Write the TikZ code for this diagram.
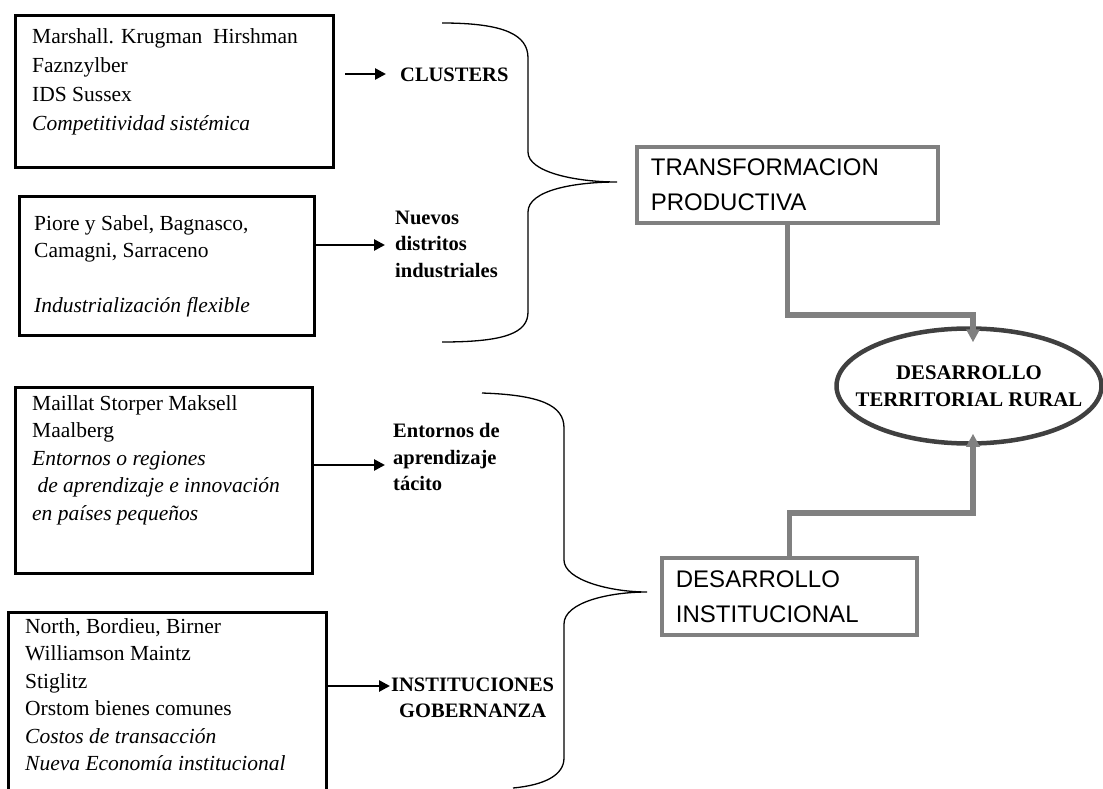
\documentclass[tikz,border=0pt]{standalone}
\usepackage{fontspec}
\setmainfont{Liberation Serif}
\setsansfont{Liberation Sans}
\usepackage{xcolor}
\usetikzlibrary{arrows.meta,calc,positioning,shapes.geometric}
\definecolor{drInk}{HTML}{000000}
\definecolor{drGrey}{HTML}{808080}
\definecolor{drDark}{HTML}{404040}
\tikzset{
  dr diagram/.style={x=1pt, y=-1pt, text=drInk,
    font=\fontsize{21.5}{27.5}\selectfont},
  dr source/.style={draw=drInk, line width=3.4pt, inner sep=0pt,
    anchor=north west},
  dr list/.style={align=left, inner sep=0pt, anchor=north west},
  dr theme/.style={font=\fontsize{20.5}{26.5}\selectfont\bfseries,
    inner sep=0pt, anchor=west},
  dr arrow/.style={-{Triangle[length=11pt,width=11pt]}, draw=drInk,
    line width=2.6pt},
  dr brace/.style={draw=drInk, line width=1.3pt},
  dr axis/.style={draw=drGrey, line width=3.8pt, anchor=north west,
    align=left, inner xsep=14pt, inner ysep=0pt,
    font=\sffamily\fontsize{24}{35}\selectfont},
  dr goal/.style={ellipse, draw=drDark, line width=4.5pt, align=center,
    inner xsep=-30pt, inner ysep=0pt,
    font=\fontsize{20.8}{27}\selectfont\bfseries},
  dr link/.style={-{Triangle[length=13pt,width=13pt]}, draw=drGrey,
    line width=5.5pt}
}

\begin{document}
\begin{tikzpicture}[dr diagram]
\useasboundingbox (0,0) rectangle (1103,789);
\clip (0,0) rectangle (1103,789);

% literature boxes
\node[dr source, minimum width=318pt, minimum height=152pt] (lit1) at (14,14) {};
\node[dr list, font=\fontsize{21.5}{29}\selectfont] (txt1) at ($(lit1.north west)+(18,9)$)
  {\strut Marshall. Krugman\ \ Hirshman\\
  Faznzylber\\ IDS Sussex\\ \textit{Competitividad sistémica}};
\node[dr source, minimum width=295pt, minimum height=139pt] (lit2) at (18,195) {};
\node[dr list] (txt2) at ($(lit2.north west)+(16,16)$) {\strut Piore y Sabel, Bagnasco,\\
  Camagni, Sarraceno\\[27.5pt] \textit{Industrialización flexible}};
\node[dr source, minimum width=297pt, minimum height=186pt] (lit3) at (14,386) {};
\node[dr list] (txt3) at ($(lit3.north west)+(18,5)$) {\strut Maillat Storper Maksell\\
  Maalberg\\ \textit{Entornos o regiones}\\ \textit{\ de aprendizaje e innovación}\\
  \textit{en países pequeños}};
\node[dr source, minimum width=318pt, minimum height=200pt] (lit4) at (7,611) {};
\node[dr list] (txt4) at ($(lit4.north west)+(18,3)$) {\strut North, Bordieu, Birner\\
  Williamson Maintz\\ Stiglitz\\ Orstom bienes comunes\\
  \textit{Costos de transacción}\\ \textit{Nueva Economía institucional}};

% themes
\node[dr theme] (lab1) at (400,75) {CLUSTERS};
\node[dr theme, align=left] (lab2) at (395,244) {Nuevos\\ distritos\\ industriales};
\node[dr theme, align=left] (lab3) at (393,457) {Entornos de\\ aprendizaje\\ tácito};
\node[dr theme, align=center] (lab4) at (391,698) {INSTITUCIONES\\ GOBERNANZA};
\coordinate (end1) at ($(lab1.west)+(-14,-1)$);
\coordinate (end2) at ($(lab2.west)+(-10,1)$);
\coordinate (end3) at ($(lab3.west)+(-8,8)$);
\coordinate (end4) at ($(lab4.west)+(-1,-12)$);
\foreach \i/\gap in {1/10,2/0,3/0,4/0}
  \draw[dr arrow, shorten <=\gap pt] (lit\i.east |- end\i) -- (end\i);

% braces
\draw[dr brace] (442,23) .. controls (505,23) and (528,35) .. (528,58)
  -- (528,152) .. controls (528,172) and (575,182) .. (617,182)
  .. controls (575,182) and (528,190) .. (528,212)
  -- (528,312) .. controls (528,333) and (505,342) .. (442,342);
\draw[dr brace] (482,393) .. controls (540,395) and (564,405) .. (564,428)
  -- (564,560) .. controls (564,580) and (610,592) .. (647,592)
  .. controls (610,592) and (564,602) .. (564,624)
  -- (564,758) .. controls (564,775) and (545,785) .. (513,788);

% axes and goal
\node[dr axis, text width=273pt, minimum height=76pt] (tp) at (635,145) {TRANSFORMACION\\ PRODUCTIVA};
\node[dr axis, text width=227pt, minimum height=77pt] (di) at (660,556) {DESARROLLO\\ INSTITUCIONAL};
\node[dr goal, minimum width=265pt, minimum height=115pt] (dtr) at (969,386) {DESARROLLO\\ TERRITORIAL RURAL};

\coordinate (bend1) at (973,315);
\coordinate (bend2) at (973,513);
\coordinate (tip1) at ($(bend1 |- dtr.north)+(0,16)$);
\coordinate (tip2) at ($(bend2 |- dtr.south)+(0,-12)$);
\draw[dr link] (tp.south) |- (bend1) -- (tip1);
\draw[dr link] (di.north) |- (bend2) -- (tip2);
\end{tikzpicture}
\end{document}
